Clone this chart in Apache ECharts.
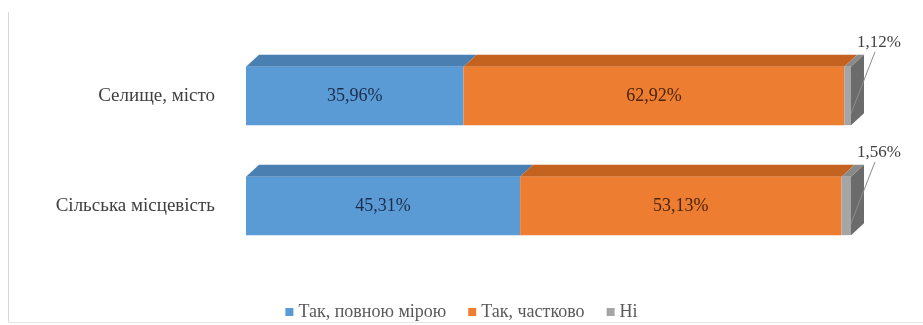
<!DOCTYPE html>
<html><head><meta charset="utf-8">
<script src="https://cdn.jsdelivr.net/npm/echarts@6/dist/echarts.min.js"></script>
<style>html,body{margin:0;padding:0;background:#fff}#c{width:923px;height:325px}</style>
</head><body><div id="c"></div>
<script>
const categories = ['Селище, місто', 'Сільська місцевість'];
const yesFull = [35.96, 45.31];
const yesPartial = [62.92, 53.13];
const no = [1.12, 1.56];
const seriesNames = ['Так, повною мірою', 'Так, частково', 'Ні'];

const FONT_NAME = 'Liberation Serif';
const FONT = '"Liberation Serif", serif';
const DX = 13, DY = -12;
const BAR_FRAC = 0.53;
const palette = [
  {front: '#5b9bd5', top: '#4a7fb2', side: '#3f6d99', text: '#1c2c4c'},
  {front: '#ed7d31', top: '#c4621f', side: '#a9521a', text: '#4a2408'},
  {front: '#a5a5a5', top: '#8a8a8a', side: '#6b6b6b', text: '#404040'}
];
const allSeries = [yesFull, yesPartial, no];

function fmt(v){ return v.toFixed(2).replace('.', ',') + '%'; }

// depth data: [categoryIndex, v0, v1, v2]
const depthData = categories.map((c, ci) => [ci].concat(allSeries.map(s => s[ci])));

function renderDepth(params, api){
  const ci = api.value(0);
  const vals = [api.value(1), api.value(2), api.value(3)];
  const band = api.size([0, 1])[1];
  const h = band * BAR_FRAC;
  const center = api.coord([0, ci])[1];
  const top = center - h / 2, bottom = center + h / 2;
  const children = [];
  let start = 0, x1 = 0;
  vals.forEach((v, si) => {
    const x0 = api.coord([start, ci])[0];
    x1 = api.coord([start + v, ci])[0];
    children.push({type: 'polygon', shape: {points: [[x0, top], [x0 + DX, top + DY], [x1 + DX, top + DY], [x1, top]]}, style: {fill: palette[si].top}});
    start += v;
  });
  const last = palette.length - 1;
  children.push({type: 'polygon', shape: {points: [[x1, top], [x1 + DX, top + DY], [x1 + DX, bottom + DY], [x1, bottom]]}, style: {fill: palette[last].side}});
  children.push({type: 'line', shape: {x1: x1 + 24, y1: top - 15, x2: x1 - 3, y2: bottom - 4}, style: {stroke: '#8c8c8c', lineWidth: 1}});
  children.push({type: 'text', style: {text: fmt(vals[last]), x: x1 + 28, y: top - 24, align: 'center', verticalAlign: 'middle', font: '17px ' + FONT, fill: palette[last].text}});
  return {type: 'group', children};
}

const chart = echarts.init(document.getElementById('c'));
chart.setOption({
  animation: false,
  backgroundColor: '#fff',
  textStyle: {fontFamily: FONT_NAME},
  grid: {left: 246, right: 72, top: 41, bottom: 64},
  xAxis: {type: 'value', min: 0, max: 100, show: false},
  yAxis: {type: 'category', data: categories, inverse: true,
    axisLine: {show: false}, axisTick: {show: false}, splitLine: {show: false},
    axisLabel: {fontFamily: FONT_NAME, fontSize: 19, color: '#404040', margin: 31}},
  legend: {top: 298, left: 'center', icon: 'rect', itemWidth: 8, itemHeight: 8, itemGap: 22,
    data: seriesNames,
    textStyle: {fontFamily: 'Times New Roman', fontSize: 18, color: '#595959'}},
  series: allSeries.map((s, si) => ({
    type: 'bar', name: seriesNames[si], stack: 'total',
    barWidth: (BAR_FRAC * 100) + '%',
    itemStyle: {color: palette[si].front},
    label: {show: si < 2, position: 'inside', formatter: p => fmt(p.value),
      fontFamily: FONT_NAME, fontSize: 18, color: palette[si].text},
    emphasis: {disabled: true},
    data: s
  })).concat([{
    type: 'custom', name: 'depth',
    renderItem: renderDepth,
    encode: {y: 0},
    data: depthData,
    silent: true
  }]),
  graphic: [
    {type: 'line', shape: {x1: 8.5, y1: 12, x2: 8.5, y2: 322}, style: {stroke: '#d9d9d9', lineWidth: 1}},
    {type: 'line', shape: {x1: 8, y1: 322.5, x2: 923, y2: 322.5}, style: {stroke: '#e6e6e6', lineWidth: 1}}
  ]
});
</script></body></html>
